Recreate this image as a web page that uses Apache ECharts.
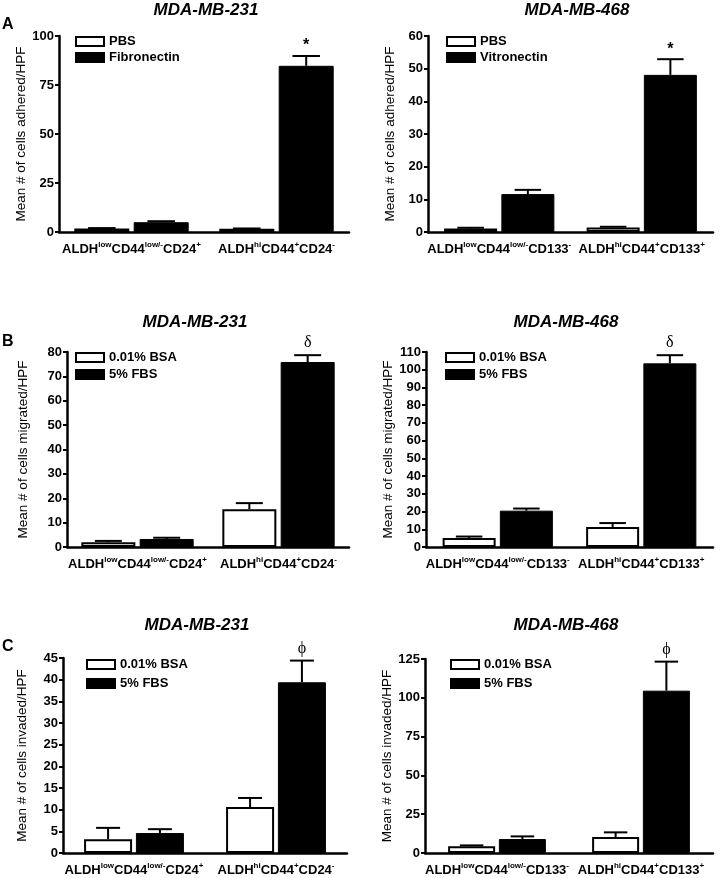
<!DOCTYPE html>
<html>
<head>
<meta charset="utf-8">
<script src="https://cdn.jsdelivr.net/npm/echarts@6/dist/echarts.min.js"></script>
<style>
html, body { margin: 0; padding: 0; background: #fff; }
#chart { width: 720px; height: 878px; }
</style>
</head>
<body>
<div id="chart"></div>
<script>
// cell groups, superscripts written after ^
var groups231 = ['ALDH^low CD44^low/- CD24^+', 'ALDH^hi CD44^+ CD24^-'];
var groups468 = ['ALDH^low CD44^low/- CD133^-', 'ALDH^hi CD44^+ CD133^+'];

// A - adhesion
var adh231Pbs = [1.8, 1.6];
var adh231PbsSem = [0.2, 0.2];
var adh231Fib = [5.0, 84.8];
var adh231FibSem = [0.5, 5.0];
var adh468Pbs = [1.1, 1.4];
var adh468PbsSem = [0.2, 0.2];
var adh468Vit = [11.6, 48.1];
var adh468VitSem = [1.3, 4.8];

// B - migration
var mig231Bsa = [2.0, 15.5];
var mig231BsaSem = [0.5, 2.5];
var mig231Fbs = [3.3, 75.9];
var mig231FbsSem = [0.5, 2.8];
var mig468Bsa = [5.1, 11.3];
var mig468BsaSem = [0.8, 2.2];
var mig468Fbs = [20.5, 103.6];
var mig468FbsSem = [1.2, 4.6];

// C - invasion
var inv231Bsa = [3.2, 10.6];
var inv231BsaSem = [2.6, 2.1];
var inv231Fbs = [4.6, 39.4];
var inv231FbsSem = [0.9, 5.0];
var inv468Bsa = [4.3, 10.3];
var inv468BsaSem = [0.6, 3.0];
var inv468Fbs = [9.0, 104.6];
var inv468FbsSem = [1.7, 18.7];

// significance marks above the second bar of each group
var marksA = ['', '*'];
var marksB = ['', '\u03b4'];
var marksC = ['', '\u03d5'];

var FONT = 'Liberation Sans, Arial, sans-serif';

var grids = [], xAxes = [], yAxes = [], series = [], legends = [], graphics = [];

function richLabel(s) {
    return s.split(' ').map(function (part) {
        var b = part.split('^');
        return '{n|' + b[0] + '}{s|' + b[1] + '}';
    }).join('');
}

function errorSeries(idx, vals, sems, sign, barW, marks) {
    var off = sign * barW * 1.08 / 2;
    var hw = barW / 4;
    return {
        type: 'custom',
        xAxisIndex: idx,
        yAxisIndex: idx,
        z: 5,
        silent: true,
        data: vals.map(function (v, i) { return [i, v, v + sems[i]]; }),
        renderItem: function (params, api) {
            var i = api.value(0);
            var top = api.coord([i, api.value(1)]);
            var hi = api.coord([i, api.value(2)]);
            var x = top[0] + off;
            var kids = [
                { type: 'line', shape: { x1: x, y1: top[1], x2: x, y2: hi[1] }, style: { stroke: '#000', lineWidth: 2 } },
                { type: 'line', shape: { x1: x - hw, y1: hi[1], x2: x + hw, y2: hi[1] }, style: { stroke: '#000', lineWidth: 2 } }
            ];
            var m = marks ? marks[params.dataIndex] : '';
            if (m) {
                var star = m === '*';
                kids.push({
                    type: 'text',
                    style: {
                        x: x, y: hi[1] - (star ? 2 : 4), text: m,
                        align: 'center', verticalAlign: 'bottom',
                        font: star ? 'bold 16px ' + FONT : '16px Liberation Serif, serif',
                        fill: '#000'
                    }
                });
            }
            return { type: 'group', children: kids };
        }
    };
}

function panel(p) {
    var idx = grids.length;
    grids.push({ left: p.left, top: p.top, width: p.width, height: p.height });
    xAxes.push({
        type: 'category', gridIndex: idx, data: p.groups,
        axisLine: { lineStyle: { color: '#000', width: 2.5 } },
        axisTick: { alignWithLabel: true, interval: 0, length: 5, lineStyle: { color: '#000', width: 2 } },
        axisLabel: {
            interval: 0, hideOverlap: false, margin: 9, color: '#000',
            formatter: richLabel,
            rich: {
                n: { fontSize: 13, fontWeight: 'bold', fontFamily: FONT, color: '#000', lineHeight: 16 },
                s: { fontSize: 8, fontWeight: 'bold', fontFamily: FONT, color: '#000', lineHeight: 9, verticalAlign: 'top' }
            }
        }
    });
    yAxes.push({
        type: 'value', gridIndex: idx, min: 0, max: p.max, interval: p.step,
        name: p.yName, nameLocation: 'middle', nameGap: p.nameGap,
        nameTextStyle: { fontSize: 13.5, fontFamily: FONT, color: '#000' },
        splitLine: { show: false },
        axisLine: { show: true, lineStyle: { color: '#000', width: 2.5 } },
        axisTick: { show: true, length: 4, lineStyle: { color: '#000', width: 2 } },
        axisLabel: { margin: 5, fontSize: 13, fontWeight: 'bold', fontFamily: FONT, color: '#000' }
    });
    series.push({
        name: p.names[0], type: 'bar', xAxisIndex: idx, yAxisIndex: idx,
        barWidth: p.barW, barGap: '8%', data: p.white,
        itemStyle: { color: '#fff', borderColor: '#000', borderWidth: 2 }
    });
    series.push({
        name: p.names[1], type: 'bar', xAxisIndex: idx, yAxisIndex: idx,
        barWidth: p.barW, data: p.black,
        itemStyle: { color: '#000', borderColor: '#000', borderWidth: 1 }
    });
    series.push(errorSeries(idx, p.white, p.whiteSem, -1, p.barW, null));
    series.push(errorSeries(idx, p.black, p.blackSem, 1, p.barW, p.marks));
    legends.push({
        left: p.legX, top: p.legY, orient: 'vertical', padding: 0,
        itemWidth: 28, itemHeight: 9, itemGap: p.legGap, icon: 'rect',
        selectedMode: false, data: p.names,
        textStyle: { fontSize: 13, fontWeight: 'bold', fontFamily: FONT, color: '#000' }
    });
    graphics.push({
        type: 'text', x: p.titleX, y: p.titleY,
        style: { text: p.title, align: 'center', verticalAlign: 'middle', font: 'italic bold 17px ' + FONT, fill: '#000' }
    });
}

panel({ left: 59, top: 36, width: 290, height: 196, max: 100, step: 25, groups: groups231,
    yName: 'Mean # of cells adhered/HPF', nameGap: 30, names: ['PBS', 'Fibronectin'], barW: 55,
    white: adh231Pbs, whiteSem: adh231PbsSem, black: adh231Fib, blackSem: adh231FibSem, marks: marksA,
    legX: 75, legY: 35, legGap: 3, title: 'MDA-MB-231', titleX: 206, titleY: 10 });
panel({ left: 428, top: 36, width: 285, height: 196, max: 60, step: 10, groups: groups468,
    yName: 'Mean # of cells adhered/HPF', nameGap: 31, names: ['PBS', 'Vitronectin'], barW: 53,
    white: adh468Pbs, whiteSem: adh468PbsSem, black: adh468Vit, blackSem: adh468VitSem, marks: marksA,
    legX: 446, legY: 35, legGap: 3, title: 'MDA-MB-468', titleX: 577, titleY: 10 });
panel({ left: 67, top: 352, width: 282, height: 195, max: 80, step: 10, groups: groups231,
    yName: 'Mean # of cells migrated/HPF', nameGap: 37, names: ['0.01% BSA', '5% FBS'], barW: 54,
    white: mig231Bsa, whiteSem: mig231BsaSem, black: mig231Fbs, blackSem: mig231FbsSem, marks: marksB,
    legX: 75, legY: 351, legGap: 4, title: 'MDA-MB-231', titleX: 195, titleY: 322 });
panel({ left: 426, top: 352, width: 287, height: 195, max: 110, step: 10, groups: groups468,
    yName: 'Mean # of cells migrated/HPF', nameGap: 29, names: ['0.01% BSA', '5% FBS'], barW: 53,
    white: mig468Bsa, whiteSem: mig468BsaSem, black: mig468Fbs, blackSem: mig468FbsSem, marks: marksB,
    legX: 445, legY: 351, legGap: 4, title: 'MDA-MB-468', titleX: 566, titleY: 322 });
panel({ left: 63, top: 658, width: 284, height: 195, max: 45, step: 5, groups: groups231,
    yName: 'Mean # of cells invaded/HPF', nameGap: 34, names: ['0.01% BSA', '5% FBS'], barW: 48,
    white: inv231Bsa, whiteSem: inv231BsaSem, black: inv231Fbs, blackSem: inv231FbsSem, marks: marksC,
    legX: 86, legY: 658, legGap: 6, title: 'MDA-MB-231', titleX: 197, titleY: 625 });
panel({ left: 425, top: 659, width: 288, height: 194, max: 125, step: 25, groups: groups468,
    yName: 'Mean # of cells invaded/HPF', nameGap: 28, names: ['0.01% BSA', '5% FBS'], barW: 47,
    white: inv468Bsa, whiteSem: inv468BsaSem, black: inv468Fbs, blackSem: inv468FbsSem, marks: marksC,
    legX: 450, legY: 658, legGap: 6, title: 'MDA-MB-468', titleX: 566, titleY: 625 });

// panel letters
[['A', 25], ['B', 342], ['C', 647]].forEach(function (l) {
    graphics.push({ type: 'text', x: 2, y: l[1],
        style: { text: l[0], align: 'left', verticalAlign: 'middle', font: 'bold 16px ' + FONT, fill: '#000' } });
});

var chart = echarts.init(document.getElementById('chart'));
chart.setOption({
    animation: false,
    backgroundColor: '#fff',
    grid: grids,
    xAxis: xAxes,
    yAxis: yAxes,
    legend: legends,
    series: series,
    graphic: graphics
});
</script>
</body>
</html>
